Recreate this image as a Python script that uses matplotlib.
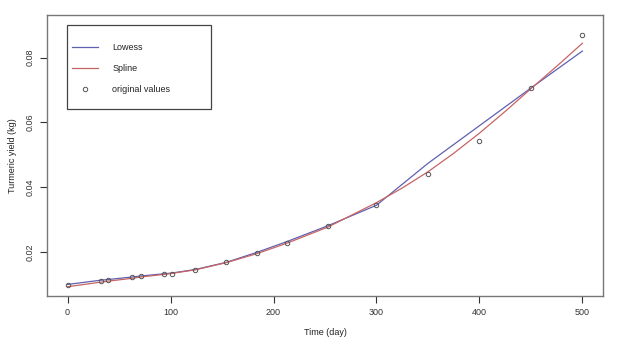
import numpy as np
from matplotlib import pyplot as plt
from matplotlib.lines import Line2D
from matplotlib.patches import Rectangle

plt.rcParams['font.family'] = ['Liberation Sans', 'DejaVu Sans']

# observed values
time_day = [0, 32, 39, 63, 71, 94, 101, 124, 154, 184, 213, 253, 300, 350, 400, 450, 500]
yield_kg = [0.0100, 0.01125, 0.01146, 0.0123, 0.0127, 0.01331, 0.0134, 0.01445, 0.01692,
            0.01978, 0.02296, 0.0280, 0.03448, 0.04422, 0.05421, 0.07063, 0.08706]

# lowess fit at the observed times
lowess_kg = [0.0101, 0.0114, 0.0116, 0.0124, 0.0127, 0.0134, 0.0136, 0.0147, 0.0169,
             0.0200, 0.0233, 0.0282, 0.0345, 0.0474, 0.0590, 0.0706, 0.0820]

# spline fit (read at a few extra times too)
spline_day = [0, 32, 39, 63, 71, 94, 101, 124, 154, 184, 213, 253, 300, 325, 350, 375,
              400, 425, 450, 475, 500]
spline_kg = [0.0094, 0.0108, 0.0111, 0.0120, 0.0124, 0.0132, 0.0135, 0.0146, 0.0168,
             0.0196, 0.0228, 0.0278, 0.0353, 0.0398, 0.0448, 0.0505, 0.0567, 0.0634,
             0.0704, 0.0773, 0.0844]

fs = 6.5
fig = plt.figure(figsize=(6.28, 3.53), dpi=100)
ax = fig.add_axes([0.0748, 0.1623, 0.8854, 0.7952])

ax.plot(time_day, lowess_kg, color='#6060b0', lw=0.9)
ax.plot(spline_day, spline_kg, color='#c86464', lw=0.9)
ax.plot(time_day, yield_kg, 'o', ms=3.2, mfc='none', mec='#555555', mew=0.7)

ax.set_xlim(-20, 520)
ax.set_ylim(0.00663, 0.0931)
ax.set_xticks([0, 100, 200, 300, 400, 500])
ax.set_yticks([0.02, 0.04, 0.06, 0.08])
ax.set_yticklabels(['0.02', '0.04', '0.06', '0.08'], rotation=90, va='center')
ax.tick_params(labelsize=fs, colors='#333333', length=5, width=0.8)
ax.tick_params(axis='x', pad=3.5)
ax.tick_params(axis='y', pad=4)
for s in ax.spines.values():
    s.set_color('#777777')
    s.set_linewidth(1.0)

ax.set_xlabel('Time (day)', fontsize=fs, color='#222222', labelpad=8)
ax.set_ylabel('Turmeric yield (kg)', fontsize=fs, color='#222222', labelpad=6)

# legend box
fig.patches.append(Rectangle((67 / 628, 1 - 109 / 353), 144 / 628, 84 / 353,
                             transform=fig.transFigure, fill=False,
                             edgecolor='#444444', lw=0.9))
handles = [Line2D([], [], color='#6060b0', lw=0.9),
           Line2D([], [], color='#c86464', lw=0.9),
           Line2D([], [], ls='none', marker='o', ms=3.2, mfc='none', mec='#555555', mew=0.7)]
leg = fig.legend(handles, ['Lowess', 'Spline', 'original values'],
                 loc='upper left', bbox_to_anchor=(0.1146, 0.8788),
                 fontsize=fs, frameon=False, borderpad=0.0, labelspacing=1.35,
                 handlelength=2.9, handletextpad=1.55, borderaxespad=0.0)
for t in leg.get_texts():
    t.set_color('#222222')

plt.savefig('out.png', dpi=100)
